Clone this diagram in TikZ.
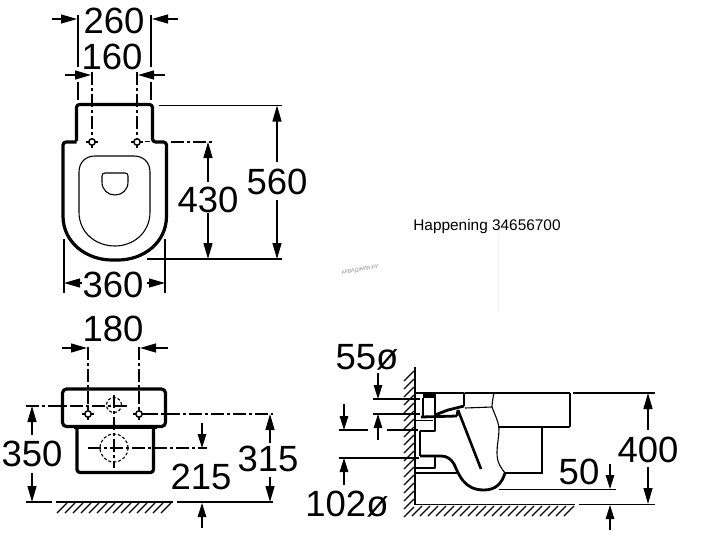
\documentclass[tikz,border=0pt]{standalone}
\usepackage{fontspec}
\setmainfont{Liberation Sans}
\usetikzlibrary{arrows.meta}
\tikzset{
  dimline/.style={line width=1.2pt,black},
  dimarrow/.style={line width=1.2pt,black,-{Stealth[length=16pt,width=9pt,inset=0pt]}},
  smallarrow/.style={line width=1.2pt,black,-{Stealth[length=14pt,width=8.5pt,inset=0pt]}},
  outline/.style={line width=3.2pt,black,line join=round,rounded corners=3pt},
  thinline/.style={line width=1.1pt,black},
  midline/.style={line width=1.7pt,black},
  heavyline/.style={line width=2.8pt,black,line join=round},
  centerline/.style={line width=1.2pt,black,dash pattern=on 13pt off 3pt on 3pt off 3pt},
  dashcircle/.style={line width=1.1pt,black,dash pattern=on 3pt off 2pt},
  hatchline/.style={line width=1.1pt,black},
  bigtext/.style={font=\fontsize{36.5}{36.5}\selectfont,inner sep=0pt},
}
\newcommand{\holemark}[2]{%
  \draw[line width=1.5pt] (#1,#2) circle (3.2pt);
  \draw[line width=1.2pt] (#1-6,#2) -- (#1-3,#2) (#1+3,#2) -- (#1+6,#2) (#1,#2+3) -- (#1,#2+6);
}
\begin{document}
\begin{tikzpicture}[x=1pt,y=-1pt]
\useasboundingbox (0,0) rectangle (720,536);
\fill[white] (0,0) rectangle (720,536);

% ---------- Top view
\draw[outline] (76.5,141) -- (76.5,104.5) -- (152.5,104.5) -- (152.5,142) -- (166.5,142)
  -- (166.5,213) .. controls (166.5,243) and (143,260) .. (115,260)
  .. controls (87,260) and (63,243) .. (63,213) -- (63,142) -- (76.5,142);
\draw[thinline] (79,172) .. controls (79,162) and (86,156) .. (95,156) -- (134,156)
  .. controls (143,156) and (150,162) .. (150,172) -- (150,212)
  .. controls (150,233) and (133,246) .. (115,246)
  .. controls (96,246) and (79,233) .. (79,212) -- cycle;
\draw[thinline] (102,176) .. controls (102,174) and (103,173) .. (105,173) -- (125,173)
  .. controls (127,173) and (128,174) .. (128,176) -- (128,182)
  .. controls (128,190) and (122,195) .. (115,195)
  .. controls (108,195) and (102,190) .. (102,182) -- cycle;
\holemark{92}{142}
\holemark{137}{142}
\draw[centerline] (92,72) -- (92,139);
\draw[centerline] (137,72) -- (137,139);
\draw[thinline] (145,141.5) -- (150,141.5);
\draw[dimline] (78,15) -- (78,67) (78,82) -- (78,100);
\draw[dimline] (151,15) -- (151,67) (151,82) -- (151,100);
\coordinate (a260l) at (52,19); \coordinate (b260l) at (77,19);
\coordinate (a260r) at (178,19); \coordinate (b260r) at (152,19);
\draw[dimarrow] (a260l) -- (b260l);
\draw[dimarrow] (a260r) -- (b260r);
\node[bigtext] (t260) at (114,21) {260};
\coordinate (a160l) at (65,75); \coordinate (b160l) at (91,75);
\coordinate (a160r) at (165,75); \coordinate (b160r) at (138,75);
\draw[dimarrow] (a160l) -- (b160l);
\draw[dimarrow] (a160r) -- (b160r);
\node[bigtext] (t160) at (112,57) {160};
% 560
\draw[dimline] (159,105.5) -- (282,105.5);
\draw[dimline] (147,259) -- (282,259);
\coordinate (a560t) at (277,162); \coordinate (b560t) at (277,105.5);
\coordinate (a560b) at (277,200); \coordinate (b560b) at (277,259);
\draw[dimarrow] (a560t) -- (b560t);
\draw[dimarrow] (a560b) -- (b560b);
\node[bigtext] (t560) at (277,182) {560};
% 430
\draw[centerline] (171,142) -- (212,142);
\coordinate (a430t) at (208,182); \coordinate (b430t) at (208,142);
\coordinate (a430b) at (208,213); \coordinate (b430b) at (208,259);
\draw[dimarrow] (a430t) -- (b430t);
\draw[dimarrow] (a430b) -- (b430b);
\node[bigtext] (t430) at (208,200) {430};
% 360
\draw[dimline] (64,239) -- (64,293);
\draw[dimline] (165,239) -- (165,293);
\coordinate (a360l) at (82,283); \coordinate (b360l) at (64,283);
\coordinate (a360r) at (147,283); \coordinate (b360r) at (165,283);
\draw[dimarrow] (a360l) -- (b360l);
\draw[dimarrow] (a360r) -- (b360r);
\node[bigtext] (t360) at (113,285) {360};

% ---------- Front view
\draw[outline,rounded corners=4pt] (62.5,389) rectangle (165.5,426.5);
\draw[outline] (77,427) -- (77,472.5) -- (153.5,472.5) -- (153.5,427);
\draw[thinline] (74,428.6) -- (157,428.6);
\draw[dashcircle] (114,405) circle (7.5pt);
\draw[dashcircle] (114,448) circle (14pt);
\holemark{88}{414}
\holemark{139}{414}
\draw[centerline] (26,406) -- (130,406);
\draw[centerline] (145,414) -- (273,414);
\draw[centerline] (88,448) -- (207,448);
\draw[centerline] (114,395) -- (114,468);
\draw[centerline] (88,347) -- (88,411);
\draw[centerline] (139,347) -- (139,411);
\coordinate (a180l) at (62,348); \coordinate (b180l) at (87,348);
\coordinate (a180r) at (168,348); \coordinate (b180r) at (140,348);
\draw[dimarrow] (a180l) -- (b180l);
\draw[dimarrow] (a180r) -- (b180r);
\node[bigtext] (t180) at (113,329) {180};
\coordinate (a350t) at (32,435); \coordinate (b350t) at (32,406);
\coordinate (a350b) at (32,473); \coordinate (b350b) at (32,502);
\draw[dimarrow] (a350t) -- (b350t);
\draw[dimarrow] (a350b) -- (b350b);
\node[bigtext] (t350) at (32,454) {350};
\draw[dimline] (26,502) -- (52,502);
\draw[dimline] (56,502) -- (173,502);
\draw[dimline] (177,502) -- (273,502);
\foreach \x in {57,65,...,162} \draw[hatchline] (\x,513) -- (\x+10,503);
\coordinate (a315t) at (270,443); \coordinate (b315t) at (270,414);
\coordinate (a315b) at (270,477); \coordinate (b315b) at (270,502);
\draw[dimarrow] (a315t) -- (b315t);
\draw[dimarrow] (a315b) -- (b315b);
\node[bigtext] (t315) at (268,459) {315};
\coordinate (a215t) at (202,423); \coordinate (b215t) at (202,448);
\coordinate (a215b) at (202,528); \coordinate (b215b) at (202,503);
\draw[smallarrow] (a215t) -- (b215t);
\draw[smallarrow] (a215b) -- (b215b);
\node[bigtext] (t215) at (201,477) {215};

% ---------- Side view
\draw[midline] (415,367) -- (415,504.5) -- (575,504.5);
\foreach \y in {372,380,...,508} \draw[hatchline] (404,\y+9) -- (414,\y-1);
\foreach \x in {412,420,...,564} \draw[hatchline] (\x,516) -- (\x+10,506);
% top of body
\draw[heavyline] (415,393) -- (464,393) -- (464,406);
\draw[thinline] (465,393) -- (570,393);
\draw[midline,rounded corners=1pt] (570,393) -- (570,427) -- (498,427);
\draw[thinline] (465,408) -- (492,407);
\draw[thinline] (494,393) .. controls (492,402) and (492,407) .. (492,407)
  .. controls (494,413) and (498,420) .. (499,428)
  .. controls (499,437) and (497,445) .. (497,452) .. controls (497,458) and (497,463) .. (505,473);
\draw[thinline] (542,427) -- (542,473) -- (505,473);
% upper box: inlet pipe
\draw[thinline] (423,398) -- (423,416);
\fill[black] (423,393) rectangle (436,398);
\draw[heavyline] (435,397) -- (435,416);
\draw[heavyline] (421,417) -- (457,416);
\draw[heavyline] (435,415) -- (448,410) -- (464,406);
\draw[heavyline] (457,416) -- (458,410);
% slanted line
\draw[line width=2.6pt] (458,410) -- (481,469);
% connectors
\draw[midline] (415,420.5) -- (433,420.5);
\draw[heavyline] (435,418) -- (435,431) -- (420,431);
\draw[midline] (420,431) -- (420,456);
\draw[heavyline] (415,468) -- (435,468) -- (435,456);
\draw[thinline] (415,473) -- (458,473);
\draw[heavyline] (420,456) -- (441,456) .. controls (447,456) and (451,459) .. (454,464)
  .. controls (459,475) and (464,490) .. (484,490)
  .. controls (496,490) and (502,483) .. (505,473);
% dims
\draw[dimline] (373,399) -- (420,399);
\draw[dimline] (373,414) -- (420,414);
\draw[dimline] (339,430) -- (368,430) (387,430) -- (418,430);
\draw[dimline] (339,458) -- (419,458);
\coordinate (a55t) at (378,373); \coordinate (b55t) at (378,399);
\coordinate (a55b) at (378,440); \coordinate (b55b) at (378,414);
\draw[smallarrow] (a55t) -- (b55t);
\draw[smallarrow] (a55b) -- (b55b);
\coordinate (a102t) at (344,404); \coordinate (b102t) at (344,430);
\coordinate (a102b) at (344,485); \coordinate (b102b) at (344,458);
\draw[smallarrow] (a102t) -- (b102t);
\draw[smallarrow] (a102b) -- (b102b);
\node[bigtext] (t55) at (367,357) {55ø};
\node[bigtext] (t102) at (347,504) {102ø};
% 400
\draw[dimline] (573,393) -- (655,393);
\draw[dimline] (579,504.5) -- (655,504.5);
\coordinate (a400t) at (648,430); \coordinate (b400t) at (648,393);
\coordinate (a400b) at (648,467); \coordinate (b400b) at (648,504);
\draw[dimarrow] (a400t) -- (b400t);
\draw[dimarrow] (a400b) -- (b400b);
\node[bigtext] (t400) at (648,450) {400};
% 50
\draw[midline] (499,489.5) -- (616,489.5);
\coordinate (a50t) at (610,464); \coordinate (b50t) at (610,489);
\coordinate (a50b) at (610,530); \coordinate (b50b) at (610,505);
\draw[smallarrow] (a50t) -- (b50t);
\draw[smallarrow] (a50b) -- (b50b);
\node[bigtext] (t50) at (579,472) {50};

% ---------- Other text
\node[inner sep=0pt,font=\fontsize{15.4}{15.4}\selectfont] (happen) at (487,227) {Happening 34656700};
\node[inner sep=0pt,rotate=10,text=black!45,font=\fontsize{5.2}{5.2}\selectfont] (mark) at (360,270) {АКВАДЖИЯ.РУ};
\draw[black!5,line width=0.8pt] (498,235) -- (498,312);
\end{tikzpicture}
\end{document}
